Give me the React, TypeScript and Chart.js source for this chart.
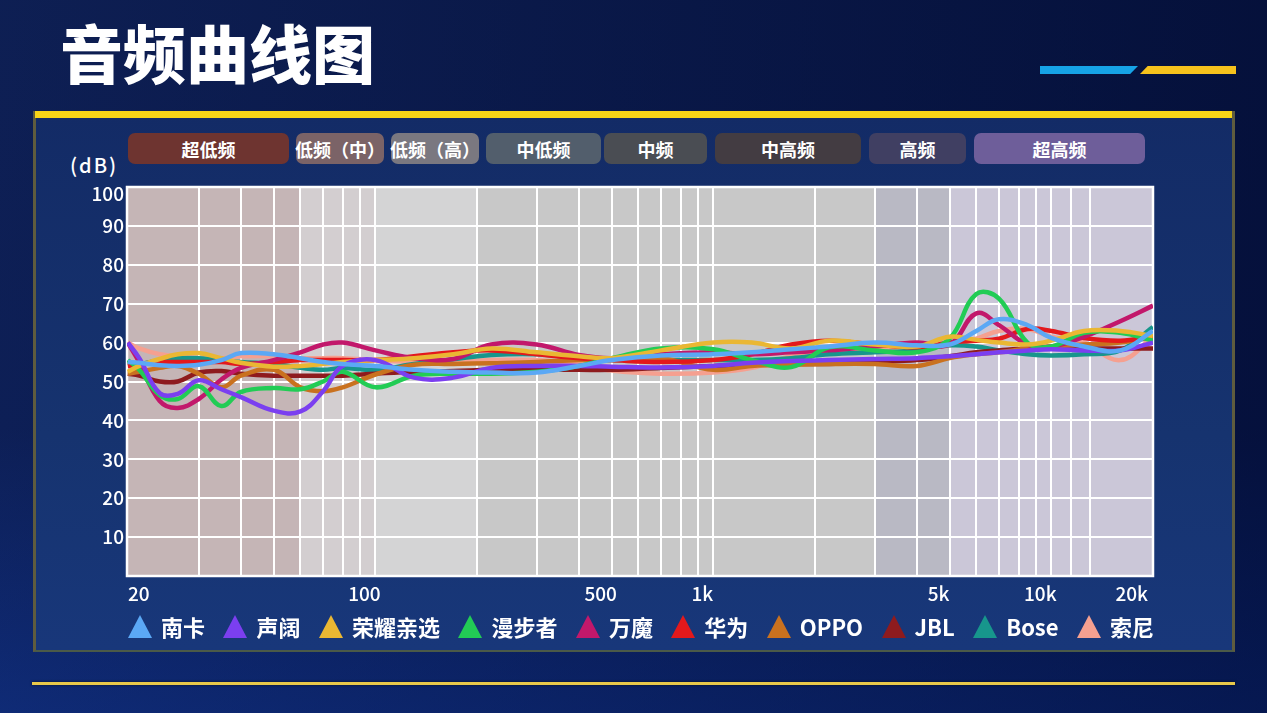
import React, { useEffect, useRef } from "react";
import { Chart, ChartConfiguration, Plugin, registerables } from "chart.js";

Chart.register(...registerables);

const FONT = "'Noto Sans CJK SC', 'Noto Sans', sans-serif";

// frequency nodes (Hz) shared by every curve
const freqs = [
  18.5, 20, 23, 26, 30, 35, 40, 50, 60, 70, 80, 100, 130, 170, 220, 300, 400,
  500, 700, 1000, 1300, 1700, 2200, 3000, 4000, 5000, 6000, 7000, 8500, 10000,
  12500, 16000, 20000,
];

const brands = ["南卡", "声阔", "荣耀亲选", "漫步者", "万魔", "华为", "OPPO", "JBL", "Bose", "索尼"];
const brandColors = [
  "#5ba8f5", "#7b3ff0", "#eab733", "#22cc55", "#c2186b",
  "#e3191c", "#c9711f", "#8e1b1e", "#17968c", "#f5a090",
];

// dB values, one per frequency node
const nanka = [55, 54.8, 54.2, 54, 54.3, 55.5, 57.3, 57, 56, 55, 54.5, 54, 53, 52.5, 52.3, 52.3, 54, 55.5, 56.7, 57, 57.5, 58.3, 59, 60, 59.3, 59.5, 63, 66, 64.5, 61.2, 59, 58, 63];
const shengkuo = [60, 56, 47, 46.8, 50.3, 48, 46, 42.5, 42.3, 47.5, 54, 55.5, 51, 51, 53.5, 54, 54, 53.8, 53.6, 54, 54.8, 55.3, 55.5, 55.8, 56, 56.5, 57, 57.5, 58, 58.3, 58, 58, 60];
const honor = [52.5, 54, 55.8, 57, 57.3, 56, 54.8, 53.8, 54, 54.5, 55, 55.5, 56, 57, 58.5, 57.5, 56.5, 56, 58, 60, 60, 58.5, 60.5, 59.5, 59, 61.5, 60.7, 60, 59.5, 60.5, 63, 63, 61.7];
const edifier = [55.5, 53, 46.5, 45.5, 48.8, 43.7, 47.3, 48.3, 48, 50, 52.5, 48.5, 51.5, 52, 52, 52.5, 54, 56, 58.5, 58.3, 55.5, 53.7, 58.8, 58, 57.5, 61, 72.5, 71.3, 60, 59, 62.5, 62.5, 60.5];
const onemore = [60, 55, 45, 43.2, 45.5, 50.5, 53.5, 55.5, 57.5, 59.5, 60, 58, 56, 55.8, 59.5, 59.5, 56.8, 56, 57, 57.5, 57, 57.5, 58, 59, 60, 59.5, 67.5, 64.5, 59.5, 59, 61.5, 65.5, 69.5];
const huawei = [54, 54.5, 55, 55, 55, 55, 54.5, 55, 55.5, 55.5, 55.5, 55.5, 56.5, 57.5, 58, 57, 56, 55.5, 55, 55.5, 57, 59.5, 60.5, 59.5, 58.8, 60, 60.5, 61, 63.5, 63, 61.2, 60.5, 61.5];
const oppo = [52, 52.5, 53.5, 54, 52, 48.5, 51.5, 53, 48.5, 47.5, 48.5, 51.8, 54.3, 54.5, 54.7, 55, 55.5, 55.5, 56, 53, 54, 54.3, 54.5, 54.5, 54, 56, 57, 57.5, 58.5, 59, 59.5, 60, 61.5];
const jbl = [52, 51.5, 50, 50, 52.3, 52.7, 52, 51.5, 51.5, 51.5, 51.5, 52, 52.5, 52.7, 53, 53, 53, 53, 53.5, 54, 54.3, 54.5, 54.5, 55, 55.5, 56.5, 57.5, 58, 58.5, 58.5, 58.5, 58.5, 58.5];
const bose = [55, 54.5, 55.5, 56, 56, 55.5, 55, 54.5, 53.5, 53, 53.5, 53, 54.5, 55.7, 56.8, 57, 56, 55.5, 55.5, 55.5, 55.5, 56, 57, 57.5, 58, 59.3, 59, 58, 57, 56.7, 57, 58, 64];
const sony = [60, 58.5, 57, 56.5, 56, 56, 56.5, 56.5, 56, 56, 56, 55.5, 55, 55, 55.5, 55.5, 54.5, 52.8, 52, 52.3, 53.5, 56.5, 57.5, 58.3, 59, 59.3, 61, 63, 63.5, 61.5, 60, 55.5, 61.5];

const seriesValues = [nanka, shengkuo, honor, edifier, onemore, huawei, oppo, jbl, bose, sony];

// vertical grid lines (Hz)
const gridFreqs = [
  30, 40, 50, 60, 70, 80, 90, 100, 200, 300, 400, 500, 600, 700, 800, 900,
  1000, 2000, 3000, 4000, 5000, 6000, 7000, 8000, 9000, 10000, 11400, 13000,
];

const xTickValues = [20, 100, 500, 1000, 5000, 10000, 20000];
const xTickText = ["20", "100", "500", "1k", "5k", "10k", "20k"];
const yTickValues = [10, 20, 30, 40, 50, 60, 70, 80, 90, 100];

// shaded frequency regions behind the curves
const shadeEdges = [18.4, 60, 100, 200, 3000, 5000, 20000];
const shadeColors = ["#c5b5b6", "#d3ced0", "#d4d4d5", "#c8c8c8", "#b9b9c4", "#cbc7d8"];

const bandNames = ["超低频", "低频（中）", "低频（高）", "中低频", "中频", "中高频", "高频", "超高频"];
const bandColors = ["#6e3430", "#7b6367", "#7a7880", "#525e6c", "#4a4d53", "#433c42", "#403f62", "#6e5e9a"];
const bandBoxes = [
  [128, 161], [296, 88], [391, 88], [486, 115], [604, 103], [715, 146], [869, 97], [974, 171],
];

const shadePlugin: Plugin<"line"> = {
  id: "shade",
  beforeDraw(chart) {
    const { ctx, chartArea } = chart;
    const x = chart.scales.x;
    ctx.save();
    for (let i = 0; i < shadeColors.length; i++) {
      const a = x.getPixelForValue(shadeEdges[i]);
      const b = x.getPixelForValue(shadeEdges[i + 1]);
      ctx.fillStyle = shadeColors[i];
      ctx.fillRect(a, chartArea.top, b - a, chartArea.bottom - chartArea.top);
    }
    ctx.restore();
  },
  beforeDatasetsDraw(chart) {
    const { ctx, chartArea } = chart;
    ctx.save();
    ctx.strokeStyle = "#ffffff";
    ctx.lineWidth = 2.5;
    ctx.strokeRect(chartArea.left, chartArea.top, chartArea.right - chartArea.left, chartArea.bottom - chartArea.top);
    ctx.restore();
  },
  afterDraw(chart) {
    const { ctx, chartArea } = chart;
    const x = chart.scales.x;
    const y = chart.scales.y;
    ctx.save();
    ctx.fillStyle = "#ffffff";
    ctx.font = `500 19px ${FONT}`;
    ctx.textBaseline = "middle";
    xTickValues.forEach((v, i) => {
      let px = x.getPixelForValue(v) - 11;
      ctx.textAlign = "center";
      if (i === 0) {
        ctx.textAlign = "left";
        px = chartArea.left + 1;
      } else if (i === xTickValues.length - 1) {
        ctx.textAlign = "right";
        px = chartArea.right - 5;
      }
      ctx.fillText(xTickText[i], px, chartArea.bottom + 18);
    });
    ctx.textAlign = "right";
    yTickValues.forEach((v) => {
      const py = Math.max(y.getPixelForValue(v), chartArea.top + 7);
      ctx.fillText(String(v), chartArea.left - 3, py);
    });
    ctx.restore();
  },
};

function FrequencyChart() {
  const canvasRef = useRef<HTMLCanvasElement | null>(null);

  useEffect(() => {
    const canvas = canvasRef.current;
    if (!canvas) return;

    const config: ChartConfiguration<"line"> = {
      type: "line",
      data: {
        datasets: brands.map((name, i) => ({
          label: name,
          data: freqs.map((f, j) => ({ x: f, y: seriesValues[i][j] })),
          borderColor: brandColors[i],
          backgroundColor: brandColors[i],
          borderWidth: 4.5,
          pointRadius: 0,
          tension: 0.4,
          fill: false,
        })),
      },
      options: {
        animation: false,
        responsive: false,
        events: [],
        layout: { padding: { left: 0, right: 114, top: 187, bottom: 0 } },
        plugins: {
          legend: { display: false },
          tooltip: { enabled: false },
        },
        scales: {
          x: {
            type: "logarithmic",
            min: 18.4,
            max: 20000,
            afterBuildTicks: (scale) => {
              scale.ticks = gridFreqs.map((v) => ({ value: v }));
            },
            afterFit: (scale) => {
              scale.height = 137;
            },
            ticks: { display: false },
            grid: { color: "#ffffff", lineWidth: 2, drawTicks: false },
            border: { display: false },
          },
          y: {
            min: 0,
            max: 100,
            afterFit: (scale) => {
              scale.width = 127;
            },
            ticks: { stepSize: 10, display: false },
            grid: { color: "#ffffff", lineWidth: 2, drawTicks: false },
            border: { display: false },
          },
        },
      },
      plugins: [shadePlugin],
    };

    const chart = new Chart(canvas, config);
    return () => {
      chart.destroy();
    };
  }, []);

  return (
    <canvas
      ref={canvasRef}
      width={1267}
      height={713}
      style={{ position: "absolute", left: 0, top: 0, display: "block" }}
    />
  );
}

export default function App() {
  return (
    <div
      style={{
        position: "absolute",
        left: 0,
        top: 0,
        width: 1267,
        height: 713,
        overflow: "hidden",
        fontFamily: FONT,
        background: "linear-gradient(180deg, #0b1b4c 0%, #0a1b50 60%, #0d2c7e 100%)",
      }}
    >
      <div
        style={{
          position: "absolute",
          inset: 0,
          background: "linear-gradient(90deg, rgba(20,40,100,0.3) 0%, rgba(0,8,45,0.55) 100%)",
        }}
      />
      <div
        style={{
          position: "absolute",
          left: 60,
          top: 16,
          fontSize: 63,
          fontWeight: 900,
          color: "#ffffff",
          lineHeight: 1.1,
          whiteSpace: "nowrap",
        }}
      >
        音频曲线图
      </div>
      <div
        style={{
          position: "absolute",
          left: 1040,
          top: 66,
          width: 98,
          height: 8,
          background: "#16a3e6",
          clipPath: "polygon(0 0, 100% 0, 92% 100%, 0 100%)",
        }}
      />
      <div
        style={{
          position: "absolute",
          left: 1140,
          top: 66,
          width: 96,
          height: 8,
          background: "#f6c21c",
          clipPath: "polygon(8% 0, 100% 0, 100% 100%, 0 100%)",
        }}
      />
      <div
        style={{
          position: "absolute",
          left: 33,
          top: 111,
          width: 1196,
          height: 539,
          background: "linear-gradient(180deg, #132b66 0%, #16336f 60%, #18377a 100%)",
          borderLeft: "3px solid #5f5c3e",
          borderRight: "3px solid #5f5c3e",
          borderBottom: "2px solid #4b5a48",
        }}
      />
      <div
        style={{
          position: "absolute",
          left: 35,
          top: 111,
          width: 1197,
          height: 7,
          background: "#f7d417",
        }}
      />
      <div
        style={{
          position: "absolute",
          left: 32,
          top: 682,
          width: 1203,
          height: 3,
          background: "#e8c84a",
          boxShadow: "0 0 3px rgba(0,0,0,0.6)",
        }}
      />
      {bandNames.map((name, i) => (
        <div
          key={name}
          style={{
            position: "absolute",
            left: bandBoxes[i][0],
            top: 133,
            width: bandBoxes[i][1],
            height: 31,
            borderRadius: 7,
            background: bandColors[i],
            color: "#ffffff",
            fontSize: 18,
            fontWeight: 700,
            display: "flex",
            alignItems: "center",
            justifyContent: "center",
            whiteSpace: "nowrap",
          }}
        >
          {name}
        </div>
      ))}
      <div
        style={{
          position: "absolute",
          left: 70,
          top: 150,
          fontSize: 20,
          fontWeight: 500,
          color: "#ffffff",
          letterSpacing: 2,
        }}
      >
        (dB)
      </div>
      <FrequencyChart />
      <div
        style={{
          position: "absolute",
          left: 128,
          top: 612,
          width: 1026,
          display: "flex",
          justifyContent: "space-between",
          alignItems: "center",
        }}
      >
        {brands.map((name, i) => (
          <div key={name} style={{ display: "flex", alignItems: "center" }}>
            <div
              style={{
                width: 0,
                height: 0,
                borderLeft: "12px solid transparent",
                borderRight: "12px solid transparent",
                borderBottom: `23px solid ${brandColors[i]}`,
                marginRight: 9,
              }}
            />
            <span style={{ color: "#ffffff", fontSize: 22, fontWeight: 700, lineHeight: "28px" }}>
              {name}
            </span>
          </div>
        ))}
      </div>
    </div>
  );
}
